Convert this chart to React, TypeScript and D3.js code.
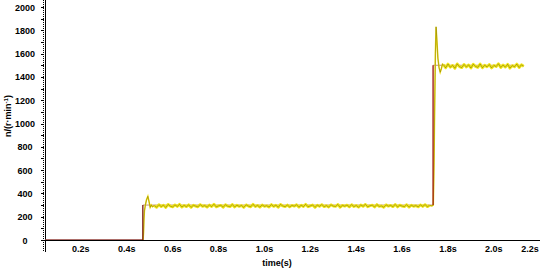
import React from "react";
import * as d3 from "d3";

// ---------- data ----------
const yTicks = [0, 200, 400, 600, 800, 1000, 1200, 1400, 1600, 1800, 2000];
const yMinorTicks = d3.range(0, 2001, 100);
const xTicks = [0.2, 0.4, 0.6, 0.8, 1.0, 1.2, 1.4, 1.6, 1.8, 2.0, 2.2];
const xTickLabels = ["0.2s", "0.4s", "0.6s", "0.8s", "1.0s", "1.2s", "1.4s", "1.6s", "1.8s", "2.0s", "2.2s"];

// reference speed (step command)
const refTime = [0, 0.47, 0.47, 1.735, 1.735, 2.13];
const refSpeed = [0, 0, 300, 300, 1500, 1500];

// transient after first step
const step1Time = [0.471, 0.473, 0.475, 0.477, 0.481, 0.486, 0.492, 0.497, 0.502, 0.507, 0.512];
const step1Speed = [0, 60, 180, 250, 300, 345, 375, 330, 280, 300, 286];

// steady state at 300 r/min (sampled every 0.01 s from 0.52 s)
const steady1Start = 0.52;
const steady1Speed = [
  296, 281, 303, 287, 299, 279, 305, 290, 284, 301,
  288, 306, 283, 297, 286, 302, 280, 298, 291, 285,
  304, 289, 295, 282, 300, 287, 307, 284, 293, 298,
  281, 303, 290, 286, 305, 283, 299, 288, 296, 280,
  302, 291, 285, 306, 287, 297, 282, 301, 289, 294,
  283, 304, 288, 299, 281, 305, 292, 286, 300, 284,
  297, 290, 303, 282, 298, 287, 306, 285, 293, 301,
  280, 299, 289, 304, 286, 295, 283, 302, 291, 288,
  305, 281, 297, 290, 300, 284, 303, 287, 296, 282,
  301, 289, 306, 285, 294, 299, 283, 304, 288, 292,
  281, 302, 290, 297, 286, 305, 284, 299, 291, 287,
  303, 282, 298, 289, 295, 285, 301, 288, 304, 286, 297,
];

// transient after second step
const step2Time = [1.73, 1.736, 1.739, 1.742, 1.745, 1.748, 1.752, 1.756, 1.761, 1.766, 1.771, 1.776];
const step2Speed = [293, 300, 650, 1150, 1600, 1830, 1700, 1560, 1480, 1440, 1470, 1510];

// steady state at 1500 r/min (sampled every 0.01 s from 1.78 s)
const steady2Start = 1.78;
const steady2Speed = [
  1505, 1478, 1510, 1483, 1499, 1474, 1512, 1488, 1480, 1507,
  1485, 1503, 1476, 1509, 1490, 1482, 1511, 1479, 1500, 1486,
  1506, 1477, 1498, 1489, 1513, 1481, 1502, 1484, 1508, 1475,
  1497, 1487, 1510, 1480, 1504, 1491,
];
const sampleStep = 0.01;

// ---------- layout ----------
const W = 540;
const H = 274;
const axisX = 45;
const axisY = 240;

const x = d3.scaleLinear().domain([0, 1.8]).range([35, 448]);
const y = d3.scaleLinear().domain([0, 2000]).range([240, 7]);

type P = [number, number];

const font = "'Liberation Sans', Arial, sans-serif";

export default function App() {
  const t1: P[] = step1Time.map((t, i) => [t, step1Speed[i]]);
  const s1: P[] = steady1Speed.map((v, i) => [steady1Start + i * sampleStep, v]);
  const t2: P[] = step2Time.map((t, i) => [t, step2Speed[i]]);
  const s2: P[] = steady2Speed.map((v, i) => [steady2Start + i * sampleStep, v]);
  const trans1: P[] = [...t1, s1[0]];
  const trans2: P[] = [s1[s1.length - 1], ...t2, s2[0]];
  const ref: P[] = refTime.map((t, i) => [t, refSpeed[i]]);

  const line = d3
    .line<P>()
    .x((d) => x(d[0]))
    .y((d) => y(d[1]));

  return (
    <svg
      width={W}
      height={H}
      viewBox={`0 0 ${W} ${H}`}
      style={{ position: "absolute", left: 0, top: 0, background: "#fff", display: "block" }}
    >
      <defs>
        <clipPath id="plot">
          <rect x={axisX} y={0} width={W - axisX} height={axisY} />
        </clipPath>
      </defs>

      {/* y axis: dotted + solid */}
      <line x1={43.5} x2={43.5} y1={0} y2={252} stroke="#000" strokeWidth={1} strokeDasharray="1,1" />
      <line x1={45.5} x2={45.5} y1={0} y2={252} stroke="#000" strokeWidth={1} />
      {yMinorTicks.map((v) => (
        <line key={v} x1={41} x2={44} y1={Math.round(y(v)) + 0.5} y2={Math.round(y(v)) + 0.5} stroke="#000" strokeWidth={1} />
      ))}
      {yTicks.map((v) => (
        <text key={v} x={25} y={y(v) + 3.5} textAnchor="middle" fontFamily={font} fontWeight="bold" fontSize={9} fill="#000">
          {v}
        </text>
      ))}

      {/* x axis */}
      <line x1={44} x2={W} y1={axisY + 0.5} y2={axisY + 0.5} stroke="#000" strokeWidth={1} />
      {xTicks.map((v, i) => (
        <text
          key={v}
          x={i === xTicks.length - 1 ? Math.min(x(v), W - 10) : x(v)}
          y={252}
          textAnchor="middle"
          fontFamily={font}
          fontWeight="bold"
          fontSize={9}
          fill="#000"
        >
          {xTickLabels[i]}
        </text>
      ))}

      {/* axis titles */}
      <text x={277} y={266} textAnchor="middle" fontFamily={font} fontWeight="bold" fontSize={9} fill="#000">
        time(s)
      </text>
      <text transform="translate(11,116) rotate(-90)" textAnchor="middle" fontFamily={font} fontWeight="bold" fontSize={9} fill="#000">
        n/(r·min
        <tspan dy={-3} fontSize={6}>-1</tspan>
        <tspan dy={3}>)</tspan>
      </text>

      {/* series */}
      <g clipPath="url(#plot)">
        <path d={line(ref) || ""} fill="none" stroke="#c09080" strokeWidth={1} />
        {/* steady-state bands */}
        <path d={line(s1) || ""} fill="none" stroke="#f2e61a" strokeWidth={2.8} strokeLinejoin="round" />
        <path d={line(s2) || ""} fill="none" stroke="#f2e61a" strokeWidth={2.8} strokeLinejoin="round" />
        <path d={line(s1) || ""} fill="none" stroke="#000" strokeWidth={0.5} strokeOpacity={0.55} />
        <path d={line(s2) || ""} fill="none" stroke="#000" strokeWidth={0.5} strokeOpacity={0.55} />
        {/* transients */}
        <path d={line(trans1) || ""} fill="none" stroke="#eedc10" strokeWidth={1.5} />
        <path d={line(trans2) || ""} fill="none" stroke="#eedc10" strokeWidth={1.5} />
        <path d={line(trans1) || ""} fill="none" stroke="#3a3300" strokeWidth={0.5} strokeOpacity={0.6} />
        <path d={line(trans2) || ""} fill="none" stroke="#3a3300" strokeWidth={0.5} strokeOpacity={0.6} />
        {/* reference: zero level and the vertical steps on top */}
        <path d={line(ref.slice(0, 3)) || ""} fill="none" stroke="#7a1515" strokeWidth={1.1} />
        <path d={line(ref.slice(3, 5)) || ""} fill="none" stroke="#a01010" strokeWidth={1.1} />
      </g>
    </svg>
  );
}
